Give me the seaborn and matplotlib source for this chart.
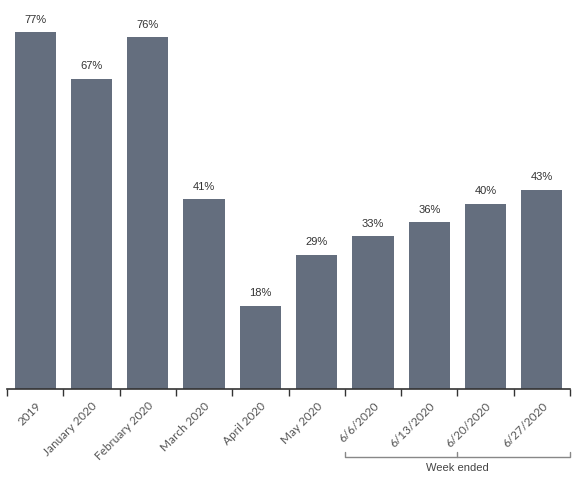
import matplotlib
matplotlib.use("Agg")
import matplotlib.pyplot as plt
import matplotlib.transforms as mtransforms
import seaborn as sns
import pandas as pd

periods = ["2019", "January 2020", "February 2020", "March 2020", "April 2020",
           "May 2020", "6/6/2020", "6/13/2020", "6/20/2020", "6/27/2020"]
values = [77, 67, 76, 41, 18, 29, 33, 36, 40, 43]

df = pd.DataFrame({"period": periods, "value": values})

sns.set_style("white")
plt.rcParams["font.family"] = ["Liberation Sans", "DejaVu Sans"]

fig = plt.figure(figsize=(5.77, 4.82), dpi=100)
ax = fig.add_axes([0.012, 0.193, 0.976, 0.807])

sns.barplot(data=df, x="period", y="value", color="#646e7e", saturation=1,
            width=0.73, ax=ax, linewidth=0)

ax.set_ylim(0, 84)
ax.set_xlim(-0.5, len(periods) - 0.5)
ax.set_xlabel("")
ax.set_ylabel("")
ax.set_yticks([])
for s in ["top", "right", "left"]:
    ax.spines[s].set_visible(False)
ax.spines["bottom"].set_color("#333333")
ax.spines["bottom"].set_linewidth(1.2)

# labels on bars
for i, v in enumerate(values):
    ax.text(i, v + 1.6, f"{v}%", ha="center", va="bottom", fontsize=8,
            color="#333333")

# tick labels at centers, tick marks at the boundaries
ax.set_xticks(range(len(periods)))
ax.set_xticklabels(periods, rotation=45, ha="right", rotation_mode="anchor",
                   fontsize=8.5, color="#555555", family=["Lato", "DejaVu Sans"])
ax.tick_params(axis="x", which="major", length=0, pad=8)
ax.set_xticks([i - 0.5 for i in range(len(periods) + 1)], minor=True)
ax.tick_params(axis="x", which="minor", bottom=True, length=5, direction="out",
               color="#333333", width=1)

# bracket for weekly data
trans = mtransforms.blended_transform_factory(ax.transData, ax.transAxes)
yb = -0.175
ax.plot([5.5, 5.5, 9.5, 9.5], [yb + 0.012, yb, yb, yb + 0.012], color="#888888",
        lw=1, transform=trans, clip_on=False)
ax.plot([7.5, 7.5], [yb, yb + 0.012], color="#888888", lw=1, transform=trans,
        clip_on=False)
ax.text(7.5, yb - 0.015, "Week ended", ha="center", va="top", fontsize=8,
        color="#444444", transform=trans)

fig.savefig("out.png", dpi=100)
